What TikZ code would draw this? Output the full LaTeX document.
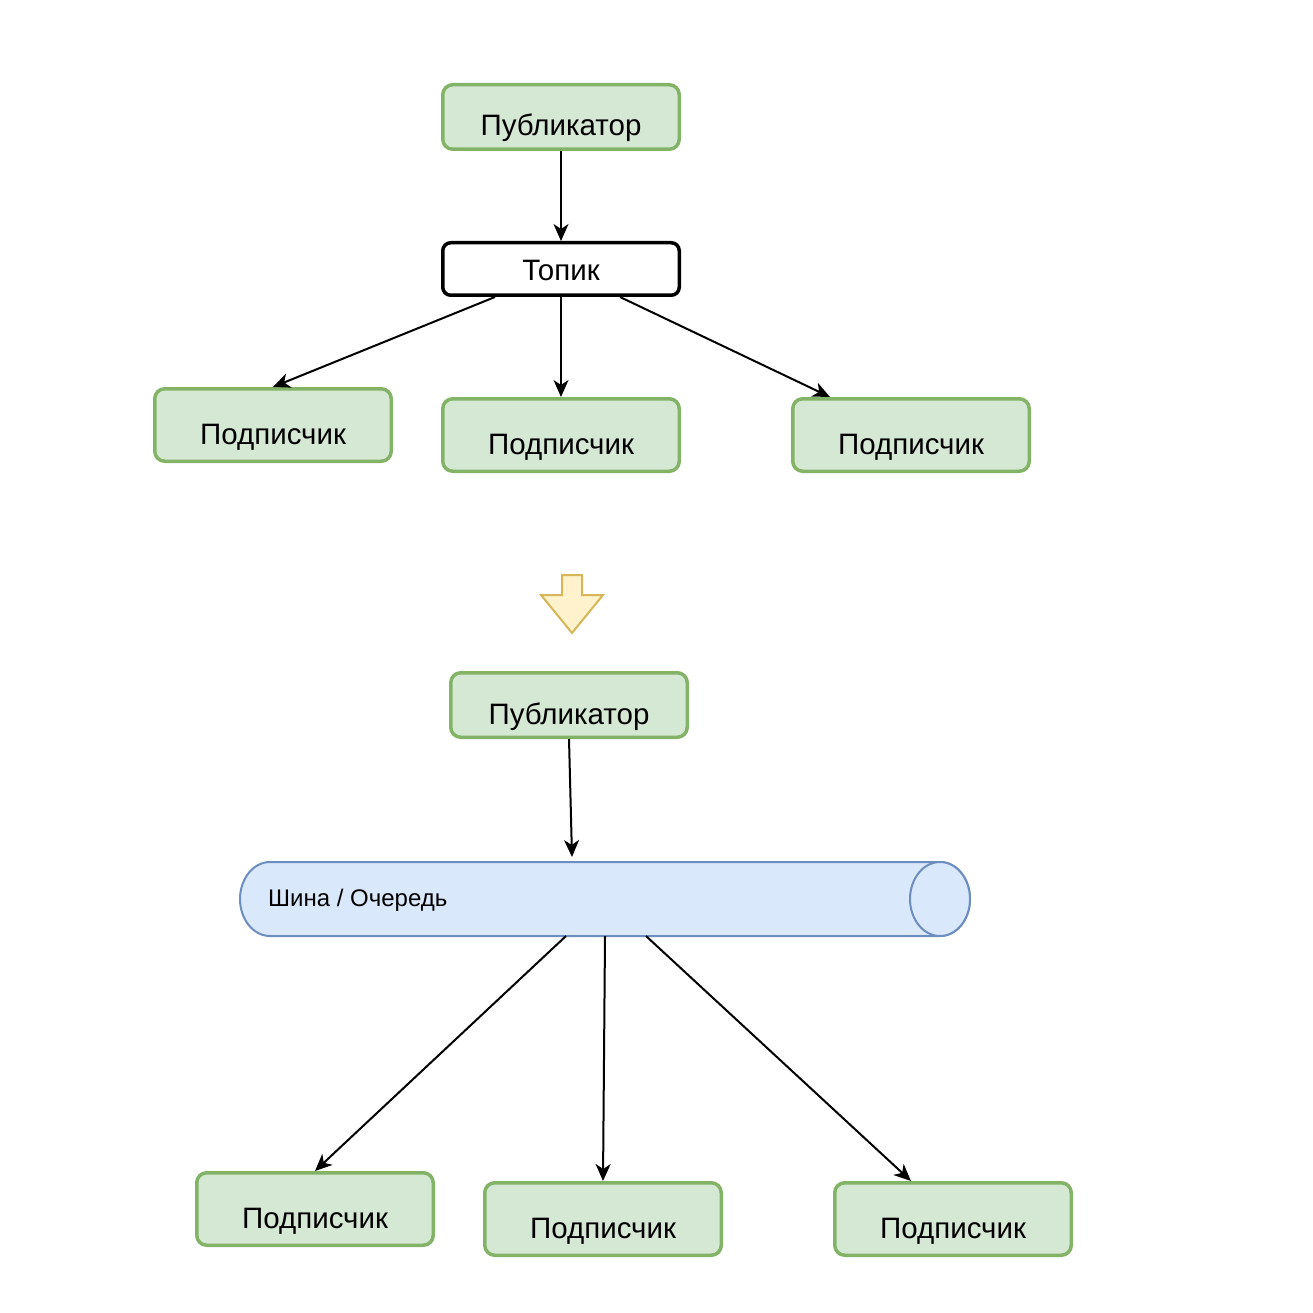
\documentclass[tikz,border=0pt]{standalone}
\usepackage{fontspec}
\setmainfont{Liberation Sans}
\usetikzlibrary{arrows.meta}
\definecolor{gfill}{HTML}{D5E8D4}
\definecolor{gline}{HTML}{82B366}
\definecolor{yfill}{HTML}{FFF2CC}
\definecolor{yline}{HTML}{D6B656}
\definecolor{bfill}{HTML}{DAE8FC}
\definecolor{bline}{HTML}{6C8EBF}
\tikzset{
  gbox/.style={draw=gline, fill=gfill, line width=3.5pt, rounded corners=10pt,
    minimum width=236.5pt, inner sep=0pt, text depth=0pt,
    font=\fontsize{29.5}{33}\selectfont},
  pubbox/.style={gbox, minimum height=64.5pt, text height=38pt},
  subbox/.style={gbox, minimum height=72.5pt, text height=38pt},
  topbox/.style={draw=black, fill=white, line width=3.5pt, rounded corners=8pt,
    minimum width=236.5pt, minimum height=52.5pt, inner sep=0pt,
    text height=22pt, text depth=0pt, font=\fontsize{29.5}{33}\selectfont},
  conn/.style={line width=2pt, -{Stealth[length=17pt,width=15pt,inset=5pt]}},
  cylline/.style={draw=bline, fill=bfill, line width=2pt},
}
\begin{document}
\begin{tikzpicture}[x=1pt,y=-1pt]
\useasboundingbox (0,0) rectangle (1312,1313);
% top part
\node[pubbox] (p1) at (561,117) {Публикатор};
\node[topbox] (t1) at (561,269) {Топик};
\node[subbox] (s1) at (273,425) {Подписчик};
\node[subbox] (s2) at (561,435) {Подписчик};
\node[subbox] (s3) at (911,435) {Подписчик};
\draw[conn] (p1.south) -- (t1.north);
\draw[conn] ([xshift=-66pt]t1.south) -- (s1.north);
\draw[conn] (t1.south) -- (s2.north);
\draw[conn] ([xshift=59pt]t1.south) -- ([xshift=-81pt]s3.north);
% transition arrow
\draw[draw=yline, fill=yfill, line width=2pt, line join=miter]
  (562,575) -- (582,575) -- (582,595) -- (603,595) -- (572,633) -- (541,595) -- (562,595) -- cycle;
% bottom part
\node[pubbox] (p2) at (569,705) {Публикатор};
\node[inner sep=0pt, outer sep=0pt, minimum width=730pt, minimum height=74pt] (cy) at (605,899) {};
\draw[cylline] (940,862) -- (270,862)
  .. controls (253.4,862) and (240,878.6) .. (240,899)
  .. controls (240,919.4) and (253.4,936) .. (270,936)
  -- (940,936)
  .. controls (956.6,936) and (970,919.4) .. (970,899)
  .. controls (970,878.6) and (956.6,862) .. (940,862) -- cycle;
\draw[cylline] (940,899) ellipse [x radius=30, y radius=37];
\node[anchor=base west, inner sep=0pt, font=\fontsize{24}{28}\selectfont] (cyt) at (268,906.5) {Шина / Очередь};
\node[subbox] (s4) at (315,1209) {Подписчик};
\node[subbox] (s5) at (603,1219) {Подписчик};
\node[subbox] (s6) at (953,1219) {Подписчик};
\draw[conn] (p2.south) -- ([xshift=-33pt,yshift=5pt]cy.north);
\draw[conn] ([xshift=-39pt]cy.south) -- (s4.north);
\draw[conn] (cy.south) -- (s5.north);
\draw[conn] ([xshift=41pt]cy.south) -- ([xshift=-42pt]s6.north);
\end{tikzpicture}
\end{document}
